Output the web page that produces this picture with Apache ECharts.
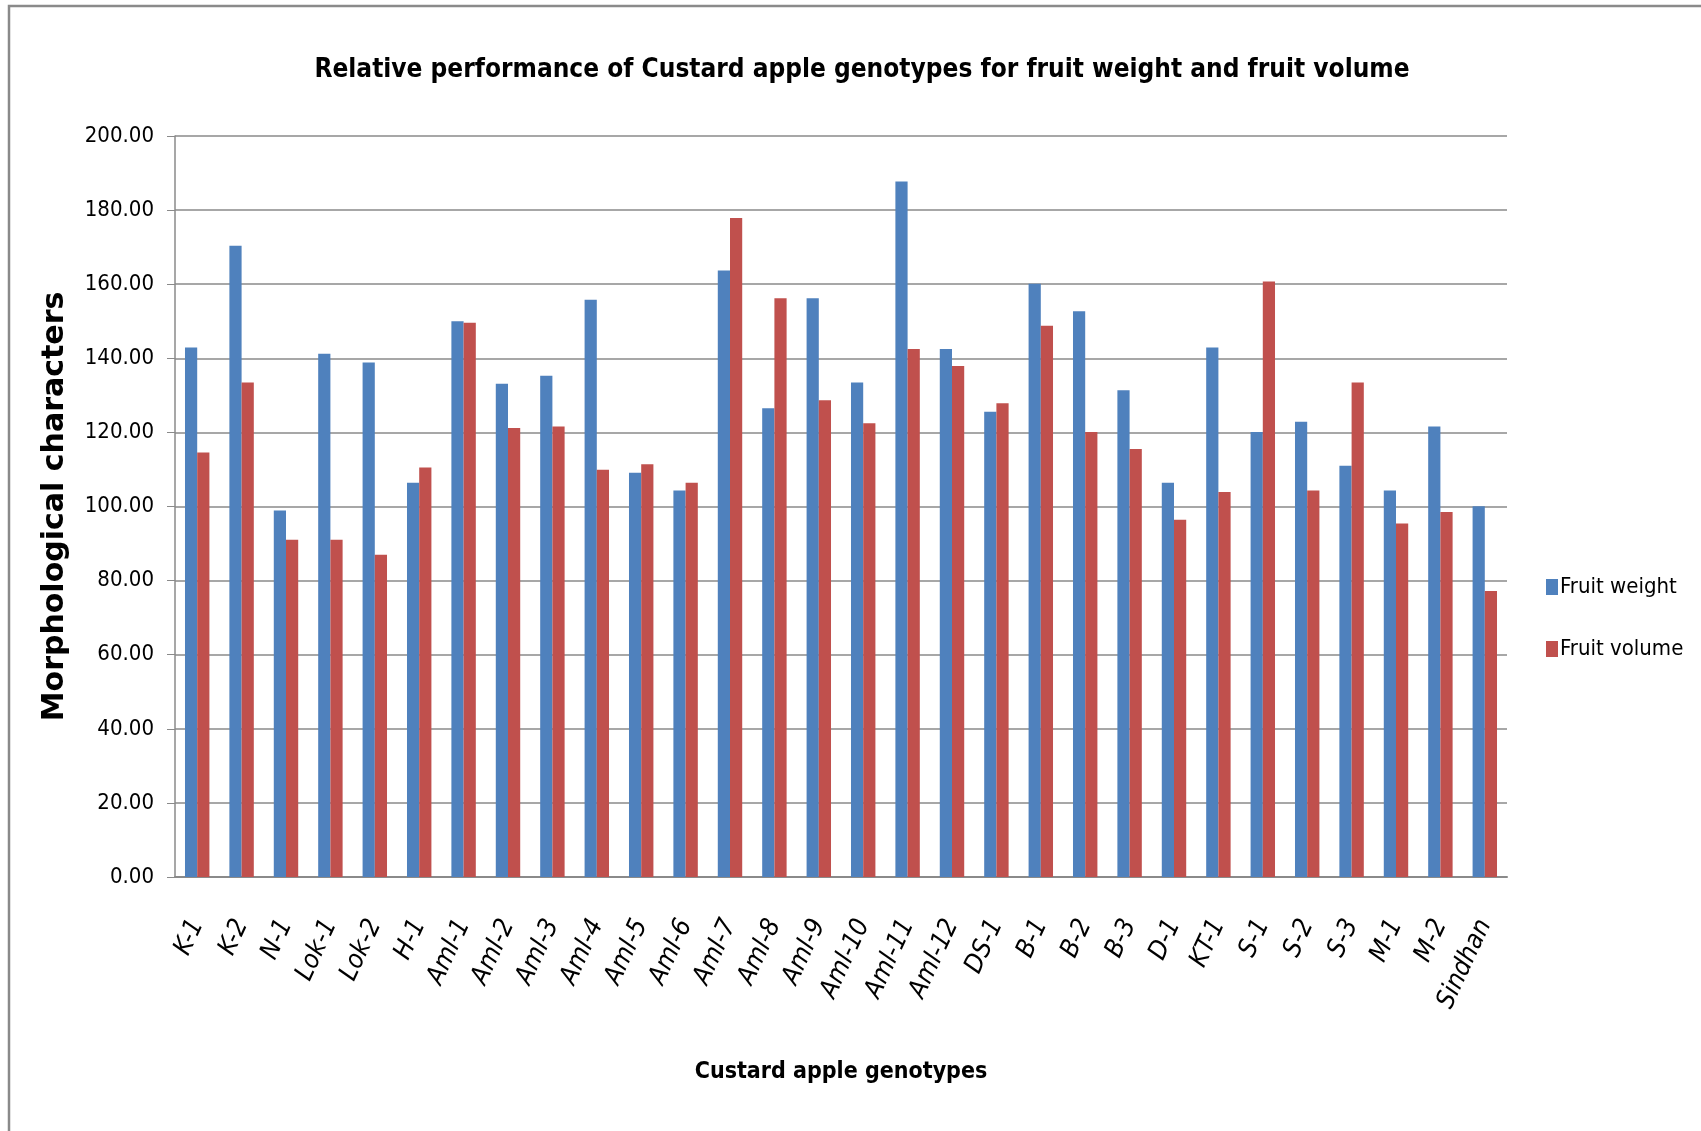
<!DOCTYPE html>
<html>
<head>
<meta charset="utf-8">
<script src="https://cdn.jsdelivr.net/npm/echarts@6/dist/echarts.min.js"></script>
<style>
  html, body { margin: 0; padding: 0; background: #fff; }
  #chart { width: 1701px; height: 1131px; }
</style>
</head>
<body>
<div id="chart"></div>
<script>
// genotypes on the x axis
const genotypes = ['K-1', 'K-2', 'N-1', 'Lok-1', 'Lok-2', 'H-1', 'Aml-1', 'Aml-2', 'Aml-3', 'Aml-4',
  'Aml-5', 'Aml-6', 'Aml-7', 'Aml-8', 'Aml-9', 'Aml-10', 'Aml-11', 'Aml-12', 'DS-1', 'B-1',
  'B-2', 'B-3', 'D-1', 'KT-1', 'S-1', 'S-2', 'S-3', 'M-1', 'M-2', 'Sindhan'];

const fruitWeight = [142.9, 170.4, 98.9, 141.2, 138.9, 106.4, 150.0, 133.1, 135.3, 155.8,
  109.1, 104.3, 163.7, 126.5, 156.2, 133.5, 187.7, 142.5, 125.6, 160.1,
  152.7, 131.4, 106.4, 142.9, 120.1, 122.9, 111.0, 104.3, 121.6, 100.1];

const fruitVolume = [114.6, 133.5, 91.0, 91.0, 87.0, 110.5, 149.6, 121.2, 121.6, 109.9,
  111.4, 106.4, 177.9, 156.2, 128.7, 122.5, 142.5, 137.9, 127.9, 148.8,
  120.1, 115.5, 96.4, 103.9, 160.7, 104.3, 133.5, 95.4, 98.5, 77.2];

const yTicks = [0, 20, 40, 60, 80, 100, 120, 140, 160, 180, 200];

const narrow = "'Liberation Sans Narrow', 'DejaVu Sans Condensed', sans-serif";

const chart = echarts.init(document.getElementById('chart'));
chart.setOption({
  animation: false,
  backgroundColor: '#fff',
  title: {
    text: 'Relative performance of Custard apple genotypes for fruit weight and fruit volume',
    left: 857,
    textAlign: 'center',
    top: 52,
    textStyle: { fontFamily: narrow, fontSize: 26, fontWeight: 'bold', color: '#000' }
  },
  legend: {
    orient: 'vertical',
    left: 1541,
    top: 571,
    itemWidth: 12,
    itemHeight: 16,
    itemGap: 40,
    icon: 'rect',
    textStyle: { fontFamily: narrow, fontSize: 22, color: '#000', padding: [0, 0, 0, -3] },
    data: ['Fruit weight', 'Fruit volume']
  },
  grid: { left: 175, right: 194, top: 136, bottom: 254, containLabel: false },
  xAxis: {
    type: 'category',
    data: genotypes,
    name: 'Custard apple genotypes',
    nameLocation: 'middle',
    nameGap: 184,
    nameTextStyle: { fontFamily: narrow, fontSize: 23, fontWeight: 'bold', color: '#000' },
    axisLine: { lineStyle: { color: '#8a8a8a', width: 2 } },
    axisTick: { show: false },
    axisLabel: {
      interval: 0,
      rotate: 65,
      margin: 44,
      fontFamily: narrow,
      fontStyle: 'italic',
      fontSize: 26,
      color: '#000'
    }
  },
  yAxis: {
    type: 'value',
    min: yTicks[0],
    max: yTicks[yTicks.length - 1],
    interval: 20,
    name: 'Morphological characters',
    nameLocation: 'middle',
    nameGap: 105,
    nameRotate: 90,
    nameTextStyle: { fontFamily: "'DejaVu Sans', sans-serif", fontSize: 30, fontWeight: 'bold', color: '#000' },
    axisLine: { show: true, lineStyle: { color: '#8a8a8a', width: 1.5 } },
    axisTick: { show: true, length: 8, lineStyle: { color: '#8a8a8a' } },
    splitLine: { lineStyle: { color: '#8a8a8a', width: 1.5 } },
    axisLabel: {
      margin: 21,
      fontFamily: narrow,
      fontSize: 22,
      color: '#000',
      formatter: v => v.toFixed(2)
    }
  },
  series: [
    {
      name: 'Fruit weight',
      type: 'bar',
      data: fruitWeight,
      barGap: '0%',
      barCategoryGap: '45%',
      itemStyle: { color: '#4F81BD' }
    },
    {
      name: 'Fruit volume',
      type: 'bar',
      data: fruitVolume,
      itemStyle: { color: '#C0504D' }
    }
  ],
  graphic: [
    {
      type: 'rect',
      silent: true,
      shape: { x: 9, y: 6, width: 1800, height: 1300 },
      style: { fill: 'none', stroke: '#8a8a8a', lineWidth: 2.5 }
    }
  ]
});
</script>
</body>
</html>
